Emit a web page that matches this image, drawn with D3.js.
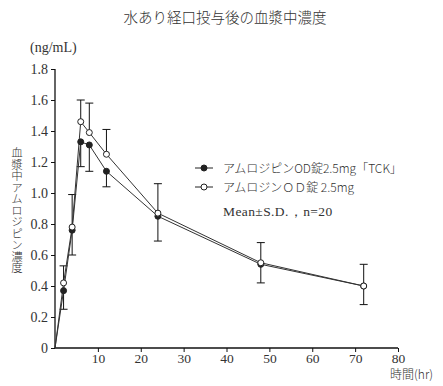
<!DOCTYPE html>
<html>
<head>
<meta charset="utf-8">
<script src="https://cdn.jsdelivr.net/npm/d3@7"></script>
<style>
  body { margin: 0; background: #fff; }
  text { fill: #333; }
</style>
</head>
<body>
<div id="chart"></div>
<script>
// sampling times (hr)
const times = [0, 2, 4, 6, 8, 12, 24, 48, 72];
// アムロジピンOD錠2.5mg「TCK」 (filled)
const tckMean = [0, 0.37, 0.76, 1.33, 1.31, 1.14, 0.85, 0.54, 0.40];
const tckSD   = [0, 0.12, 0.16, 0.16, 0.17, 0.10, 0.16, 0.12, 0.12];
// アムロジンＯＤ錠 2.5mg (open)
const refMean = [0, 0.42, 0.78, 1.46, 1.39, 1.25, 0.87, 0.55, 0.40];
const refSD   = [0, 0.11, 0.21, 0.14, 0.19, 0.16, 0.19, 0.13, 0.14];

const xTicks = [10, 20, 30, 40, 50, 60, 70, 80];
const yTicks = [0, 0.2, 0.4, 0.6, 0.8, 1.0, 1.2, 1.4, 1.6, 1.8];

const legendLabels = ["アムロジピンOD錠2.5mg「TCK」", "アムロジンＯＤ錠 2.5mg"];

const W = 443, H = 386;
const serif = "'Liberation Serif', 'DejaVu Serif', serif";
const cjk = "'Noto Sans CJK JP', sans-serif";

const svg = d3.select("#chart").append("svg")
    .attr("width", W).attr("height", H);

const x = d3.scaleLinear().domain([0, 80]).range([55, 398]);
const y = d3.scaleLinear().domain([0, 1.8]).range([348, 69]);

// title
svg.append("text")
    .attr("x", 225).attr("y", 23)
    .attr("text-anchor", "middle")
    .style("font-family", cjk).style("font-size", "14.5px").style("font-weight", 300)
    .text("水あり経口投与後の血漿中濃度");

svg.append("text")
    .attr("x", 30).attr("y", 52)
    .style("font-family", serif).style("font-size", "14px")
    .text("(ng/mL)");

// axes
const yAxis = svg.append("g")
    .attr("transform", "translate(" + x(0) + ",0)")
    .call(d3.axisLeft(y).tickValues(yTicks).tickSize(4).tickPadding(3)
      .tickFormat(d => d === 0 ? "0" : d3.format(".1f")(d)));

const xAxis = svg.append("g")
    .attr("transform", "translate(0," + y(0) + ")")
    .call(d3.axisBottom(x).tickValues(xTicks).tickSize(4).tickPadding(1));

[yAxis, xAxis].forEach(a => {
  a.select(".domain").attr("stroke", "#111").attr("stroke-width", 1.3);
  a.selectAll(".tick line").attr("stroke", "#111");
  a.selectAll(".tick text").style("font-family", serif).style("font-size", "14px").attr("fill", "#444");
});
xAxis.selectAll(".tick text").style("font-size", "13.5px");
yAxis.select(".domain").attr("d", "M0," + y(0) + "V" + y(1.8));
xAxis.select(".domain").attr("d", "M" + x(0) + ",0H" + x(80));

// axis titles
svg.append("text")
    .attr("x", 17).attr("y", 147)
    .style("writing-mode", "vertical-rl")
    .style("font-family", cjk).style("font-size", "11.5px").style("font-weight", 300)
    .text("血漿中アムロジピン濃度");

svg.append("text")
    .attr("x", 433).attr("y", 379)
    .attr("text-anchor", "end")
    .style("font-family", cjk).style("font-size", "12px").style("font-weight", 300)
    .text("時間(hr)");

const tck = times.map((t, i) => ({t, m: tckMean[i], sd: tckSD[i]}));
const ref = times.map((t, i) => ({t, m: refMean[i], sd: refSD[i]}));

// error bars: reference upward, TCK downward
const bars = svg.append("g").attr("stroke", "#111").attr("stroke-width", 1);
ref.filter(d => d.t > 0).forEach(d => {
  bars.append("line").attr("x1", x(d.t)).attr("x2", x(d.t)).attr("y1", y(d.m)).attr("y2", y(d.m + d.sd));
  bars.append("line").attr("x1", x(d.t) - 4).attr("x2", x(d.t) + 4).attr("y1", y(d.m + d.sd)).attr("y2", y(d.m + d.sd));
});
tck.filter(d => d.t > 0).forEach(d => {
  bars.append("line").attr("x1", x(d.t)).attr("x2", x(d.t)).attr("y1", y(d.m)).attr("y2", y(d.m - d.sd));
  bars.append("line").attr("x1", x(d.t) - 4).attr("x2", x(d.t) + 4).attr("y1", y(d.m - d.sd)).attr("y2", y(d.m - d.sd));
});

const line = d3.line().x(d => x(d.t)).y(d => y(d.m));
[tck, ref].forEach(s => {
  svg.append("path").datum(s)
    .attr("fill", "none").attr("stroke", "#333").attr("stroke-width", 1)
    .attr("d", line);
});

svg.append("g").selectAll("circle").data(tck.filter(d => d.t > 0)).enter().append("circle")
    .attr("cx", d => x(d.t)).attr("cy", d => y(d.m)).attr("r", 3)
    .attr("fill", "#222").attr("stroke", "#222");
svg.append("g").selectAll("circle").data(ref.filter(d => d.t > 0)).enter().append("circle")
    .attr("cx", d => x(d.t)).attr("cy", d => y(d.m)).attr("r", 3)
    .attr("fill", "#fff").attr("stroke", "#222");

// legend
const leg = svg.append("g");
legendLabels.forEach((lab, i) => {
  const ly = 168 + i * 19;
  leg.append("line").attr("x1", 195).attr("x2", 213).attr("y1", ly).attr("y2", ly)
    .attr("stroke", "#222");
  leg.append("circle").attr("cx", 204).attr("cy", ly).attr("r", 3)
    .attr("fill", i === 0 ? "#222" : "#fff").attr("stroke", "#222");
  leg.append("text").attr("x", 223).attr("y", ly + 4.5)
    .style("font-family", cjk).style("font-size", "12px").style("font-weight", 300)
    .text(lab);
});
leg.append("text").attr("x", 223).attr("y", 216)
    .style("font-family", serif).style("font-size", "13.5px")
    .attr("fill", "#444")
    .style("letter-spacing", "0.4px")
    .text("Mean±S.D.，n=20");
</script>
</body>
</html>
